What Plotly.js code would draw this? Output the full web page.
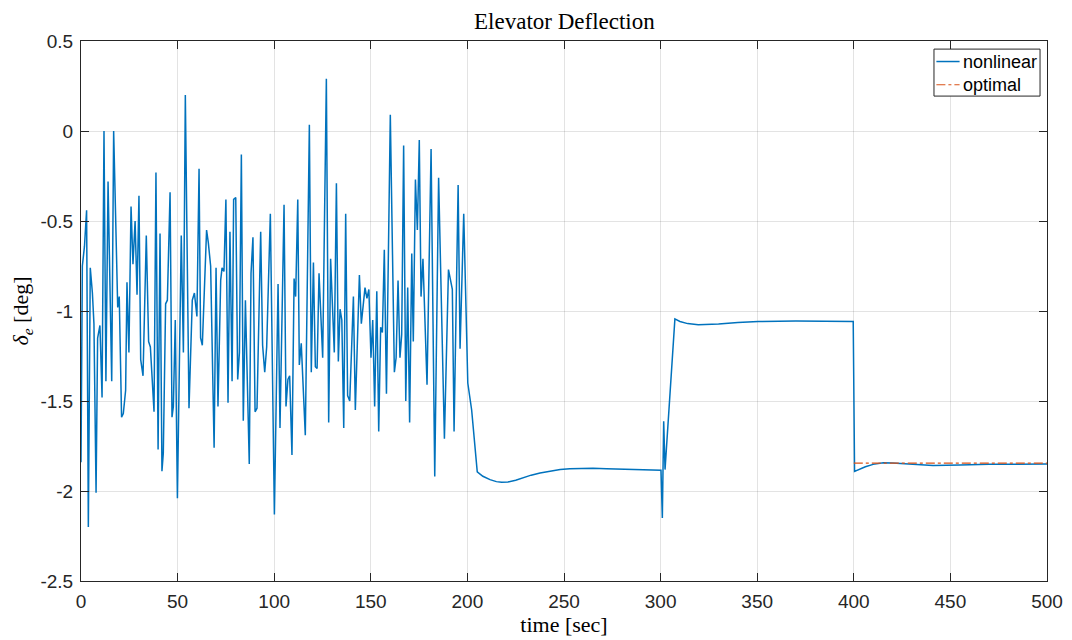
<!DOCTYPE html>
<html>
<head>
<meta charset="utf-8">
<script src="https://cdn.plot.ly/plotly-3.0.1.min.js"></script>
<style>
  html, body { margin: 0; padding: 0; background: #ffffff; }
  #chart { width: 1072px; height: 640px; }
</style>
</head>
<body>
<div id="chart"></div>
<script>
// Elevator deflection time history: noisy phase (0-200 s), then step responses.
const timeSec = [
  0, 0.7, 1.8, 2.9, 3.8, 4.8, 5.9, 6.7, 7.8, 8.6, 9.8, 10.9, 11.9, 12.9, 14, 15.9, 16.9,
  18.5, 19, 19.8, 21, 21.9, 23.1, 23.8, 24.8, 25.9, 26.9, 28, 29, 30, 30.9, 32.1, 33.8,
  35, 35.9, 37.8, 38.8, 39.9, 40.9, 41.9, 42.6, 43.8, 44.7, 46.1, 47.1, 47.8, 48.8, 49.9,
  51.9, 53, 54, 55.9, 57.6, 58.7, 60, 61.1, 61.9, 62.8, 65, 65.9, 67.1, 68.9,
  69.9, 70.9, 72.3, 73, 74, 75, 76.1, 77.1, 78.2, 79, 80.1, 81.1, 82, 83, 84, 85.1, 87.1,
  88, 89, 90.1, 91.1, 93, 94, 95.1, 96.1, 98, 100.1, 102, 103, 105.1, 106.1, 107.1, 108,
  109.2, 110.3, 111.1, 112.2, 113, 114, 116.1, 118.2, 119.2, 120.3, 121.3, 122.2, 123.2,
  125.1, 127, 128.2, 129.2, 131.1, 132.2, 133.2, 134.1, 135, 136, 137, 138, 139.1, 141,
  142, 144.1, 145.1, 147, 148, 149, 150.1, 151, 152, 153.1, 154.1, 155.1, 156, 157, 158.1,
  160.1, 162.2, 163.1, 164.1, 165.1, 166, 167, 168.1, 169.1, 170.1, 171.2, 172, 173.1,
  174.1, 175.1, 176, 177, 179.1, 181.2, 183.1, 185.1, 188.1, 190.2, 191.2, 192.2, 193.1,
  195.2, 196.2, 198.1, 200.2, 202.2,
  205.1, 208, 211.7, 215, 217.7, 221, 225, 229, 233, 237.6, 243, 248, 253, 258.3, 265, 272, 289.3, 300.2,
  300.9, 301.6, 302.3, 307.4, 310, 314, 319.5, 325, 330, 340, 350.5, 370, 399.7,
  400.4, 403, 406, 410, 415.3, 420, 430, 441, 455, 470, 500
];
const deltaE = [
  -1.84, -0.75, -0.64, -0.44, -2.2, -0.76, -0.9, -1.07, -2.01, -1.15, -1.08, -1.48, 0.0, -1.39, -0.28, -1.39, 0.0,
  -0.88, -0.98, -0.92, -1.59, -1.57, -1.44, -0.84, -1.23, -0.42, -0.74, -0.5, -0.91, -0.36, -1.27, -1.36, -0.58,
  -1.17, -1.2, -1.56, -0.23, -1.77, -0.57, -1.89, -1.79, -0.96, -0.94, -0.34, -1.59, -1.53, -1.05, -2.04,
  -0.58, -1.23, 0.2, -1.54, -0.94, -0.9, -1.03, -0.21, -1.15, -1.19, -0.55, -0.62, -0.75, -1.76,
  -0.76, -1.53, -0.83, -0.76, -0.78, -0.38, -1.51, -0.56, -1.39, -0.38, -0.37, -1.38, -1.23, -0.13, -1.61, -0.94, -1.85,
  -0.79, -0.59, -1.56, -1.54, -0.56, -1.19, -1.34, -1.2, -0.46, -2.13, -0.85, -1.65, -0.41, -1.53, -1.38, -1.36,
  -1.8, -0.82, -0.92, -0.38, -1.3, -1.18, -1.69, 0.035, -1.34, -0.73, -1.31, -1.32, -0.79,
  -1.26, 0.29, -1.62, -0.71, -1.23, -0.29, -1.28, -0.99, -1.05, -1.65, -0.46, -1.47, -1.5, -0.92,
  -1.55, -0.8, -1.07, -0.87, -0.93, -0.88, -1.26, -1.05, -1.53, -0.89, -1.67, -1.09, -1.12, -0.66, -1.46,
  0.09, -1.34, -1.26, -0.83, -1.26, -1.13, -0.08, -1.5, -0.87, -1.62, -0.68, -1.17, -0.27,
  -0.55, -0.05, -0.92, -0.71, -1.41, -0.1, -1.92, -0.26, -1.71, -0.77, -0.83, -0.88, -1.67,
  -0.3, -1.21, -0.46, -1.4, -1.55,
  -1.894, -1.918, -1.937, -1.948, -1.952, -1.95, -1.94, -1.925, -1.912, -1.9, -1.889, -1.881, -1.876, -1.874, -1.874, -1.876, -1.881, -1.885,
  -2.15, -1.613, -1.881, -1.044, -1.058, -1.07, -1.076, -1.075, -1.072, -1.064, -1.058, -1.056, -1.058,
  -1.891, -1.878, -1.865, -1.852, -1.843, -1.845, -1.852, -1.858, -1.856, -1.852, -1.85
];

// Optimal reference over the last segment
const optimalTime = [400, 500];
const optimalDelta = [-1.845, -1.845];

// Axis ticks
const xTickVals = [0, 50, 100, 150, 200, 250, 300, 350, 400, 450, 500];
const xTickText = ['0', '50', '100', '150', '200', '250', '300', '350', '400', '450', '500'];
const yTickVals = [0.5, 0, -0.5, -1, -1.5, -2, -2.5];
const yTickText = ['0.5', '0', '-0.5', '-1', '-1.5', '-2', '-2.5'];

// Legend entries
const seriesNames = ['nonlinear', 'optimal'];

const axisColor = 'rgb(38,38,38)';
const gridColor = 'rgba(38,38,38,0.13)';
const sans = 'Liberation Sans, Arial, sans-serif';
const serif = 'Liberation Serif, Times New Roman, serif';
const tickFont = { family: sans, size: 19, color: axisColor };
const blue = '#0072BD';
const orange = '#D95319';

const traces = [
  {
    x: timeSec, y: deltaE, name: seriesNames[0], type: 'scatter', mode: 'lines',
    line: { color: blue, width: 1.5 }
  },
  {
    x: optimalTime, y: optimalDelta, name: seriesNames[1], type: 'scatter', mode: 'lines',
    line: { color: orange, width: 1.2, dash: 'dashdot' }
  }
];

const axisCommon = {
  showline: true, linecolor: axisColor, linewidth: 1, mirror: 'allticks',
  ticks: 'inside', ticklen: 8, tickwidth: 1, tickcolor: axisColor,
  showgrid: true, gridcolor: gridColor, gridwidth: 1,
  zeroline: false, tickfont: tickFont, tickmode: 'array'
};

// Boxed legend in the upper-right corner of the axes
const legendBox = { x0: 0.883, x1: 0.9928, y0: 0.898, y1: 0.985 };
const legendRows = [0.962, 0.919];
const sampleX = [0.8855, 0.9095];
const legendShapes = [
  { type: 'rect', xref: 'paper', yref: 'paper', x0: legendBox.x0, x1: legendBox.x1,
    y0: legendBox.y0, y1: legendBox.y1, line: { color: axisColor, width: 1 }, fillcolor: '#ffffff', layer: 'above' },
  { type: 'line', xref: 'paper', yref: 'paper', x0: sampleX[0], x1: sampleX[1],
    y0: legendRows[0], y1: legendRows[0], line: { color: blue, width: 1.5 }, layer: 'above' },
  { type: 'line', xref: 'paper', yref: 'paper', x0: sampleX[0], x1: sampleX[1],
    y0: legendRows[1], y1: legendRows[1], line: { color: orange, width: 1.2, dash: 'dashdot' }, layer: 'above' }
];
const legendLabels = seriesNames.map((name, i) => ({
  xref: 'paper', yref: 'paper', x: sampleX[1] + 0.0015, y: legendRows[i],
  xanchor: 'left', yanchor: 'middle', showarrow: false, text: name,
  font: { family: sans, size: 18, color: '#000000' }
}));

const layout = {
  width: 1072, height: 640,
  margin: { l: 81, r: 25, t: 41, b: 59 },
  paper_bgcolor: '#ffffff', plot_bgcolor: '#ffffff',
  showlegend: false,
  title: {
    text: 'Elevator Deflection',
    font: { family: serif, size: 23, color: '#000000' },
    x: 0.5265, xanchor: 'center', y: 0.968, yanchor: 'middle'
  },
  xaxis: Object.assign({}, axisCommon, {
    range: [0, 500], tickvals: xTickVals, ticktext: xTickText, ticklabelstandoff: 3,
    title: { text: 'time [sec]', font: { family: serif, size: 22, color: '#000000' }, standoff: 2 }
  }),
  yaxis: Object.assign({}, axisCommon, {
    range: [-2.5, 0.5], tickvals: yTickVals, ticktext: yTickText, ticklabelstandoff: 3,
    title: { text: '<i>δ</i><sub><i>e</i></sub> [deg]', font: { family: serif, size: 22, color: '#000000' }, standoff: 5 }
  }),
  shapes: legendShapes,
  annotations: legendLabels
};

Plotly.newPlot('chart', traces, layout, { displayModeBar: false, staticPlot: true });
</script>
</body>
</html>
